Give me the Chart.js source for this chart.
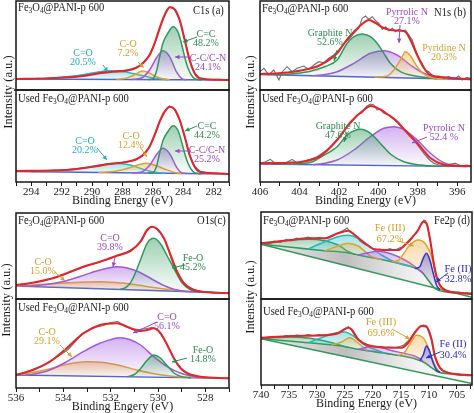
<!DOCTYPE html>
<html><head><meta charset="utf-8">
<script src="https://cdn.jsdelivr.net/npm/chart.js@4.4.1/dist/chart.umd.min.js"></script>
<style>
html,body{margin:0;padding:0;background:#fff;}
body{width:474px;height:413px;position:relative;overflow:hidden;font-family:"Liberation Serif","Times New Roman",serif;color:#1a1a1a;}
canvas{position:absolute;}
.lb{position:absolute;white-space:nowrap;font-size:11.5px;line-height:12px;transform:scaleX(0.92);transform-origin:0 0;}
.lb sub{font-size:8px;vertical-align:-2px;line-height:0;}
.nt{position:absolute;white-space:nowrap;font-size:10px;line-height:9px;text-align:center;transform:translateX(-50%);}
.yt{position:absolute;white-space:nowrap;font-size:12.5px;transform:translate(-50%,-50%) rotate(-90deg);}
svg{position:absolute;left:0;top:0;}
</style></head><body>
<script>
// ---------------- DATA (binding energy eV, intensity a.u.) ----------------
const c1sTicks = [294, 292, 290, 288, 286, 284, 282];
const n1sTicks = [406, 404, 402, 400, 398, 396];
const o1sTicks = [536, 534, 532, 530, 528];
const fe2pTicks = [740, 735, 730, 725, 720, 715, 710, 705];

// C1s – fresh
const c1sTopFit = [[295,11],[292.8,11.7],[290.6,14],[289.5,16.7],[288.63,18.3],[287.75,19.3],[287.09,22.3],[286.66,26.7],[286.22,35],[285.89,46.7],[285.56,61.7],[285.23,75],[284.9,82.7],[284.57,80.7],[284.24,70],[283.91,50],[283.59,30],[283.26,16.7],[282.93,11.7],[281.8,10.2],[281,10]];
const c1sTopRaw = [[295,11.5],[294.3,10.5],[293.6,11.8],[292.8,11],[292,12.5],[291.2,13],[290.5,14.8],[289.8,16.5],[289.1,18.5],[288.5,18.8],[287.9,19.8],[287.3,21],[286.8,25],[286.3,33],[285.9,46],[285.56,61.5],[285.2,76],[284.9,83],[284.6,81],[284.25,70],[283.9,50],[283.6,30.5],[283.26,17],[282.9,11.5],[282.3,10.5],[281.6,10.8],[281,10]];
const c1sTopCC = [[286.3,10.4],[286.0,11.5],[285.78,18],[285.56,33],[285.34,47],[285.01,57],[284.68,63.3],[284.35,58],[284.13,46.7],[283.91,33],[283.69,21.7],[283.37,12.7],[283.04,10.4],[282.8,10.1]];
const c1sTopCCN = [[287.4,10.5],[287.1,11],[286.66,12.7],[286.22,20],[285.78,31.7],[285.34,39.3],[284.9,33.3],[284.46,18.3],[284.13,11.7],[283.8,10.2]];
const c1sTopCO = [[288.4,10.5],[287.7,12],[287.3,14.5],[286.95,17.5],[286.66,19],[286.3,17.5],[285.95,14.5],[285.56,12],[285.2,10.9],[284.9,10.3]];
const c1sTopCdO = [[294,10.9],[293.5,11.1],[292.5,12],[291.5,13.5],[290.5,15.5],[289.6,18],[288.8,19.2],[288.0,18.5],[287.3,16.5],[286.6,14],[286.0,12],[285.4,10.9],[285,10.3]];
const c1sTopBg = [[295,11],[281,10]];
// C1s – used
const c1sBotFit = [[295,11],[291.7,12],[289.95,15.3],[288.85,18],[287.75,20],[287.09,22.7],[286.66,27],[286.22,35.3],[285.89,47],[285.56,60.3],[285.23,70.3],[284.9,75.3],[284.57,72.7],[284.24,62],[283.91,45.3],[283.59,27],[283.26,15.3],[282.93,10.3],[281.8,8.7],[281,8]];
const c1sBotRaw = [[295,10.5],[294.2,11.5],[293.4,10.8],[292.6,11.8],[291.8,12.2],[291,13.5],[290.2,14.5],[289.5,16.5],[288.9,18.5],[288.3,19],[287.7,20.5],[287.2,21.5],[286.7,26],[286.3,33],[285.9,46],[285.56,60],[285.23,70],[284.9,76],[284.6,73],[284.25,62],[283.9,45],[283.6,27.5],[283.25,15.5],[282.9,10.5],[282.3,9],[281.6,8.5],[281,8]];
const c1sBotCC = [[286.3,8.9],[286.0,9.4],[285.78,15],[285.56,28.7],[285.34,41.5],[285.01,50.5],[284.68,56.3],[284.35,51.5],[284.13,41],[283.91,28.5],[283.69,18.5],[283.37,10.5],[283.04,8.6],[282.8,8.3]];
const c1sBotCCN = [[287.4,9.2],[287.1,9.3],[286.66,10.6],[286.22,16.7],[285.78,27],[285.34,33.7],[284.9,28.3],[284.46,15.2],[284.13,9.4],[283.8,8.5]];
const c1sBotCO = [[289.6,9.5],[289.2,9.7],[288.5,10.8],[287.8,13],[287.1,16.5],[286.45,18.7],[285.8,16.5],[285.2,12.8],[284.7,10],[284.3,8.8],[284.0,8.55]];
const c1sBotCdO = [[294,10.3],[293.5,10.4],[292.5,11],[291.5,12.3],[290.5,14.3],[289.5,16.8],[288.4,18.7],[287.5,17],[286.8,13.5],[286.2,10.8],[285.6,9.3],[285.2,8.8]];
const c1sBotBg = [[295,10.5],[281,8]];

// N1s – fresh
const n1sTopFit = [[406,16],[405.2,16.5],[404.63,17.5],[403.78,20],[402.94,25],[402.09,36.7],[401.58,50.7],[401.24,58],[400.82,66],[400.48,70],[400.14,67],[399.72,62],[399.39,60],[398.88,59.3],[398.62,58],[398.37,50],[398.03,35],[397.69,22],[397.36,15],[396.7,12.7],[395.3,10.7]];
const n1sTopRaw = [[406,18.3],[405.8,21.7],[405.55,15],[405.3,20],[405.04,10],[404.87,18.3],[404.63,23.3],[404.37,18.3],[404.12,21.7],[403.78,24],[403.53,20.7],[403.27,25],[403.02,28.3],[402.77,27.3],[402.51,31.7],[402.26,35],[402.0,40],[401.75,46.7],[401.5,50.7],[401.24,56.7],[400.99,61.7],[400.82,71.7],[400.65,74],[400.48,70.7],[400.31,73.3],[400.14,69.3],[399.97,66.7],[399.8,60.7],[399.63,63.3],[399.46,59.3],[399.29,61.7],[399.13,58.3],[398.96,60.7],[398.79,59.3],[398.62,60],[398.45,55],[398.28,50],[398.11,40],[397.95,31.7],[397.78,26.7],[397.61,20],[397.44,18.3],[397.19,13.3],[396.93,14],[396.68,11.7],[396.43,13.3],[396.17,10.7],[395.92,14],[395.75,10],[395.5,12.7],[395.3,11.3]];
const n1sTopGraphite = [[405.2,15.1],[404.2,16.5],[403.4,19],[402.7,23.5],[402.09,30],[401.58,46.7],[401.24,53.3],[400.82,56],[400.4,53.3],[400.06,46.7],[399.72,36.7],[399.39,26.7],[398.88,18.3],[398.2,14.2],[397.5,12.3],[397.0,11.3]];
const n1sTopPyrrolic = [[403.4,14.3],[402.7,15.5],[402.09,18.3],[401.24,26.7],[400.4,36.7],[399.72,39.3],[399.05,35],[398.37,25],[397.69,16.7],[397.02,12.7],[396.4,11.2],[396.0,10.85]];
const n1sTopPyridine = [[400.2,12.8],[399.56,14],[399.22,20],[398.88,30],[398.62,38.3],[398.37,34],[398.03,23.3],[397.69,16],[397.36,12.7],[396.9,11.3],[396.5,11.1]];
const n1sTopBg = [[406,15.5],[395.3,10.5]];
// N1s – used
const n1sBotFit = [[406,18.7],[404.63,19.3],[403.78,20.5],[402.94,26],[402.09,42],[401.4,60],[400.74,72],[400.4,76],[399.9,72.5],[399.56,68],[399.05,60.5],[398.71,53],[398.03,39],[397.36,24],[396.7,17.5],[396.0,16.3],[395.3,16]];
const n1sBotRaw = [[406,18.7],[405.72,20.3],[405.48,22.7],[405.23,18.7],[404.97,18],[404.63,19.7],[404.37,22.7],[404.12,18.7],[403.78,21],[403.44,22.7],[403.1,25.3],[402.85,28.7],[402.6,32],[402.34,37],[402.09,42],[401.83,48.7],[401.58,55.3],[401.33,60.3],[401.08,67],[400.82,69.3],[400.57,76],[400.4,78],[400.23,77],[400.06,72],[399.89,72.7],[399.72,68.7],[399.46,67],[399.22,62.7],[398.96,58],[398.71,52.7],[398.45,47],[398.2,42],[397.95,35.3],[397.69,28.7],[397.44,22.7],[397.19,18.7],[396.93,17],[396.68,16],[396.34,18],[396.09,18.7],[395.84,16.3],[395.5,17],[395.3,16.3]];
const n1sBotGraphite = [[405,17.8],[404,18.3],[403.3,20.5],[402.94,24.7],[402.09,35.3],[401.58,47],[400.9,52.7],[400.4,48.7],[399.9,38.7],[399.39,28],[398.71,20.3],[397.86,17],[397.0,15.8],[396.4,15.6]];
const n1sBotPyrrolic = [[403.3,17.3],[402.8,18.5],[402.09,22],[401.24,32],[400.4,45.3],[399.72,53.7],[399.22,55.3],[398.71,52.7],[398.03,42],[397.36,28.7],[396.68,19.3],[396.0,16.2],[395.5,15.4]];
const n1sBotBg = [[406,18],[395.3,15.3]];

// O1s – fresh
const o1sTopFit = [[536,14],[535.29,16.3],[534.57,20],[533.86,25.7],[533.16,32.3],[532.45,37.3],[531.74,43.3],[531.17,48],[530.74,57.3],[530.46,69],[530.25,72.3],[530.03,70],[529.75,60.7],[529.47,44],[529.19,27.3],[528.9,15.7],[528.48,9],[527.9,6.7],[527,5.7]];
const o1sTopRaw = [[536,14.2],[535.6,15],[535.2,16.8],[534.8,18.5],[534.4,21],[534.0,24.5],[533.7,27],[533.4,29.5],[533.0,33],[532.6,36],[532.3,38.5],[532.0,40.5],[531.7,43.5],[531.4,46],[531.1,49.5],[530.9,53],[530.7,58],[530.5,67],[530.3,72.5],[530.1,71],[529.9,66],[529.7,58.5],[529.5,45],[529.3,31],[529.05,19],[528.8,13],[528.5,9.5],[528.1,7.5],[527.6,6.5],[527,6]];
const o1sTopFeO = [[531.6,9.6],[531.4,11],[531.2,15],[531.03,22],[530.74,39],[530.46,55.7],[530.17,60.7],[529.89,55],[529.61,43],[529.33,30.7],[528.97,15.7],[528.6,9],[528.2,7]];
const o1sTopCdO = [[535.8,12.9],[535.5,13],[534.8,14.2],[534.0,17.5],[533.3,22.5],[532.6,28],[532.0,31.5],[531.74,32.3],[531.3,31],[530.8,27],[530.3,20.5],[529.8,14],[529.3,9.5],[528.8,7.6],[528.2,7]];
const o1sTopCO = [[536,13],[535,14.5],[534,16],[533,17],[532.45,17.3],[531.8,16.5],[531,14.5],[530.2,11.5],[529.4,9],[528.6,7.5],[527.8,6.7],[527.4,6.3]];
const o1sTopBg = [[536,13],[527,6]];
// O1s – used
const o1sBotFit = [[536,13],[535.29,18],[534.57,26.3],[533.86,39.7],[533.16,54.7],[532.45,63],[531.74,64.7],[531.31,61.3],[530.74,57],[530.46,58],[530.18,59.7],[529.89,54.7],[529.61,43],[529.33,29.7],[529.04,19.7],[528.76,14.7],[528.19,11.3],[527,9.7]];
const o1sBotRaw = [[536,13.3],[535.6,15.5],[535.3,18.5],[534.9,22],[534.5,27.5],[534.1,33.5],[533.8,38.5],[533.5,46],[533.2,54],[532.9,58],[532.6,61],[532.3,62.5],[532.0,65.5],[531.7,66.5],[531.4,62],[531.1,59],[530.8,58.5],[530.5,59.5],[530.25,60.5],[530.0,57.5],[529.75,49],[529.5,38],[529.25,26],[529.0,18.5],[528.7,13.5],[528.3,11.5],[527.8,10.5],[527.3,9.8],[527,9.7]];
const o1sBotFeO = [[531.3,11.3],[531.0,13.5],[530.75,19],[530.45,28],[530.17,33],[529.9,30],[529.6,22],[529.3,14.5],[529.0,11.4],[528.6,10.3]];
const o1sBotCdO = [[535.6,12.9],[535.29,13.7],[534.57,18],[533.86,26.3],[533.16,36.3],[532.45,44.7],[531.6,50.3],[531.2,48.5],[530.74,43],[530.18,31.3],[529.61,21.3],[529.04,14.7],[528.48,11.3],[528.0,10.1]];
const o1sBotCO = [[536,13.5],[535.3,15.5],[534.6,19],[533.9,23.5],[533.0,26.3],[532.3,25.5],[531.6,22.5],[530.9,18],[530.2,14.5],[529.5,12],[528.8,10.7],[528.0,10.1]];
const o1sBotBg = [[536,13],[527,9.7]];

// Fe2p – fresh
const fe2pTopFit = [[740,55.7],[737.55,57.3],[734.58,59],[731.59,60.7],[728.61,60.7],[726.23,65.7],[724.44,68.3],[723.25,64],[721.46,55.7],[719.67,49.7],[717.88,49],[715.49,49],[714.30,54],[713.11,60.7],[711.92,69],[711.02,77.3],[710.43,75.7],[709.83,60.7],[709.23,39],[708.64,22.3],[708.04,14],[707.15,9],[704.76,6.3],[702.3,5]];
const fe2pTopRaw = [[740,56],[738.8,54],[737.6,58],[736.5,56.5],[735.5,59.5],[734.6,58],[733.6,61],[732.6,59.5],[731.6,62],[730.6,60],[729.6,61.5],[728.6,60],[727.6,63],[726.8,64.5],[726.2,66],[725.3,68.5],[724.6,71],[724.2,68],[723.6,66],[723,63],[722.3,58],[721.5,55],[720.6,52.5],[719.7,49],[718.8,50],[717.9,48],[717,50.5],[716.1,48.5],[715.3,51],[714.6,52],[714,56],[713.4,58],[712.8,63],[712.2,66],[711.7,72],[711.2,76],[710.9,79],[710.6,78],[710.3,74],[709.9,62],[709.5,50],[709.1,34],[708.7,23],[708.2,15],[707.6,11],[707,9],[706.2,7.5],[705.4,6.5],[704.6,7],[703.8,5.5],[703,6],[702.3,5]];
const fe2pTopSat = [[740,54.7],[736.96,57.3],[734.58,59],[731.59,59.7],[728.61,58.3],[726.23,54],[724.44,47.5],[723.25,44.8]];
const fe2pTopCyan = [[731.59,50],[728.61,57.3],[726.23,62.3],[724.44,63.7],[722.65,60.7],[720.86,54],[718.48,44],[715.49,35.6],[713.11,32.3]];
const fe2pTopFe3b = [[728.61,48.3],[726.23,53],[724.44,55.7],[722.65,53],[720.27,42.3],[718.48,39.3]];
const fe2pTopSat2 = [[722.65,44],[720.86,46.3],[719.07,47.7],[716.69,45],[714.30,39],[712.51,32.5],[711.02,25.2]];
const fe2pTopFe3 = [[716.69,37.3],[715.49,38.5],[714.9,42.3],[713.4,54],[711.92,59],[710.72,55.7],[709.53,42.3],[708.64,22.3],[707.74,8.4]];
const fe2pTopFe2 = [[712.51,30.6],[711.62,32.3],[711.02,40.7],[710.43,45.7],[709.83,39],[709.23,25.7],[708.64,14],[708.04,9.0]];
const fe2pTopShirley = [[740,54.7],[734.58,51.7],[728.61,48.3],[724.44,46.3],[722.65,44],[716.69,37.3],[713.11,32.3],[711.32,27.3],[710.13,19],[708.94,10.7],[707.15,7.3],[702.3,5.7]];
const fe2pTopLinear = [[740,54.7],[702.3,1.7]];
// Fe2p – used
const fe2pBotFit = [[740,47.3],[734.58,49],[728.61,49.7],[726.23,51.7],[724.44,57.3],[723.85,55.7],[722.65,45.7],[720.86,39.7],[716.69,37.3],[714.90,37.3],[713.70,42.3],[712.51,52.3],[711.32,59],[710.43,58.3],[709.53,45.7],[708.94,29],[708.04,17.3],[706.55,12.3],[702.3,9.7]];
const fe2pBotRaw = [[740,47.5],[738.8,46.5],[737.6,48.5],[736.5,47.5],[735.5,49.5],[734.6,48.5],[733.6,50],[732.6,49],[731.6,50.5],[730.6,49.5],[729.6,50.5],[728.6,50],[727.6,51],[726.8,52],[726.2,52.5],[725.5,54.5],[724.8,56],[724.4,58.5],[724,56],[723.4,51],[722.8,46.5],[722.1,43],[721.3,40.5],[720.5,39.5],[719.6,38],[718.7,38.5],[717.8,37.5],[716.9,38],[716,37.5],[715.2,38.5],[714.5,40],[713.9,43],[713.3,47],[712.7,52],[712.1,56],[711.5,59],[711,60],[710.5,59.5],[710.1,54],[709.6,46],[709.2,35],[708.8,26],[708.3,19],[707.7,14.5],[707,12.5],[706.2,11.5],[705.4,10.5],[704.6,11],[703.8,10],[703,10.5],[702.3,9.5]];
const fe2pBotSat = [[740,46.3],[737.55,47.5],[734.58,48],[731.59,47],[728.61,44],[726.23,40.5],[724.44,37.7]];
const fe2pBotCyan = [[731.59,42.3],[728.61,48.5],[726.23,52.3],[725.03,53],[723.25,48],[721.46,40],[719.67,35.5],[717.88,31.7]];
const fe2pBotFe3b = [[727.4,40],[725.63,43],[724.14,47.3],[722.65,42],[721.0,34.3]];
const fe2pBotSat2 = [[722.65,35.7],[720.3,38.5],[718.5,37.5],[716.69,34.5],[714.3,31.5],[712.51,28.8],[711.3,25],[711.0,22.9]];
const fe2pBotFe3 = [[715.49,29.4],[714.30,33],[713.4,41],[712.2,49.7],[711.02,47],[710.13,38],[709.53,28],[708.64,17],[708.04,12.7]];
const fe2pBotFe2 = [[711.62,24.3],[711.02,30],[710.43,39],[709.83,33],[709.23,22],[708.64,15],[708.04,12.7]];
const fe2pBotShirley = [[740,46.3],[731.59,42.3],[725.63,39],[722.65,35.7],[716.69,30.7],[712.51,26.3],[710.72,22.3],[709.53,17.3],[708.34,13],[706.55,11.3],[702.3,9.7]];
const fe2pBotLinear = [[740,46.3],[702.3,1.5]];

// ---------------- STYLE ----------------
const FONT = '"Liberation Serif","Times New Roman",serif';
const RED='#e2262b', RAW='#6e6e6e', BASE='#4d62d6';
const C = {
  green:['#2e9a5a','52,155,95'], purple:['#a35ad8','165,95,222'], gold:['#e0a232','232,170,60'],
  cyan:['#27b8c6','45,192,204'], blue:['#3034cf','60,62,215'], teal:['#26b7b9','40,190,195']
};
function pts(a){ return a.slice().sort((p,q)=>q[0]-p[0]).map(p=>({x:p[0],y:p[1]})); }
function vgrad(rgb,a0,a1){
  return (c)=>{
    const ch=c.chart, area=ch.chartArea;
    if(!area || !ch.scales.y) return `rgba(${rgb},${(a0+a1)/2})`;
    const ds=ch.data.datasets[c.datasetIndex]; const ys=ds.data.map(p=>p.y);
    const sy=ch.scales.y; const t=sy.getPixelForValue(Math.max(...ys)); let b=sy.getPixelForValue(Math.min(...ys)); if(b<t+2) b=t+2;
    const g=ch.ctx.createLinearGradient(0,t,0,b); g.addColorStop(0,`rgba(${rgb},${a0})`); g.addColorStop(1,`rgba(${rgb},${a1})`); return g;
  };
}
function hgrad(){
  return (c)=>{
    const ch=c.chart, a=ch.chartArea; if(!a) return 'rgba(90,90,90,0.2)';
    const g=ch.ctx.createLinearGradient(a.left,0,a.right,0);
    g.addColorStop(0,'rgba(110,110,110,0.12)'); g.addColorStop(0.4,'rgba(100,100,100,0.42)'); g.addColorStop(0.75,'rgba(150,150,150,0.12)'); g.addColorStop(1,'rgba(170,170,170,0.04)');
    return g;
  };
}
function ln(data,color,w,extra){ return Object.assign({data:pts(data),borderColor:color,borderWidth:w,pointRadius:0,pointHoverRadius:0,cubicInterpolationMode:'monotone',fill:false},extra||{}); }
function straight(data,color,w,extra){ return ln(data,color,w,Object.assign({cubicInterpolationMode:'default',tension:0},extra||{})); }
function stdSets(fit,raw,comps,bg){
  const ds=[ln(fit,RED,2.1), straight(raw,RAW,1.1)];
  const bgIdx=2+comps.length;
  comps.forEach(c=>ds.push(ln(c[0],c[1][0],1.5,{fill:{target:bgIdx},backgroundColor:vgrad(c[1][1],0.48,0.02)})));
  ds.push(straight(bg,BASE,1.3));
  return ds;
}
function feSets(fit,raw,comps,S,L){
  const ds=[ln(fit,RED,2.1), straight(raw,RAW,1.1)];
  const sIdx=2+comps.length;
  comps.forEach(c=>ds.push(ln(c[0],c[1][0],1.5,{fill:{target:sIdx},backgroundColor:vgrad(c[1][1],0.42,0.04)})));
  ds.push(ln(S,C.green[0],1.6,{fill:{target:sIdx+1},backgroundColor:hgrad()}));
  ds.push(straight(L,C.green[0],1.6));
  return ds;
}

const frame={id:'frame',afterDraw(ch){const{ctx,chartArea:a}=ch;ctx.save();ctx.strokeStyle='#161616';ctx.lineWidth=1.5;ctx.strokeRect(a.left,a.top,a.right-a.left,a.bottom-a.top);ctx.restore();}};

function xScale(s){
  const o={type:'linear',reverse:true,min:s.min,max:s.max,display:!!s.axis,bounds:'data'};
  if(!s.axis) return o;
  return Object.assign(o,{
    afterBuildTicks(sc){const out=[];const st=s.step;for(let k=Math.ceil(s.min/st-1e-9);k*st<=s.max+1e-9;k++){out.push({value:Math.round(k*st*10)/10});}sc.ticks=out.reverse();},
    afterFit(sc){sc.height=27;sc.paddingLeft=0;sc.paddingRight=0;},
    ticks:{autoSkip:false,maxRotation:0,minRotation:0,padding:0,color:'#1a1a1a',font:{family:FONT,size:11},callback:(v)=>s.labels.includes(v)?String(v):''},
    grid:{display:true,drawOnChartArea:false,drawTicks:true,tickLength:4,color:'#1a1a1a',lineWidth:1},
    border:{display:false},
    title:{display:true,text:s.title,color:'#1a1a1a',font:{family:FONT,size:12},padding:{top:0,bottom:1}}
  });
}
function makeChart(s){
  const cv=document.createElement('canvas');
  const px=s.axis?14:2;
  const W=s.w+2*px, H=s.h+2+(s.axis?28:2);
  cv.width=W; cv.height=H;
  cv.style.left=(s.left-px)+'px'; cv.style.top=(s.top-2)+'px'; cv.style.width=W+'px'; cv.style.height=H+'px';
  document.body.appendChild(cv);
  new Chart(cv,{type:'line',data:{datasets:s.datasets},
    options:{responsive:false,animation:false,devicePixelRatio:1,events:[],
      layout:{autoPadding:false,padding:{left:px,right:px,top:2,bottom:s.axis?1:2}},
      plugins:{legend:{display:false},tooltip:{enabled:false}},
      scales:{x:xScale(s),y:{display:false,min:0,max:s.h}}},
    plugins:[frame]});
}

const specs=[
 {left:16,top:1,w:213,h:89,min:281,max:295,datasets:stdSets(c1sTopFit,c1sTopRaw,[[c1sTopCC,C.green],[c1sTopCCN,C.purple],[c1sTopCO,C.gold],[c1sTopCdO,C.cyan]],c1sTopBg)},
 {left:16,top:90,w:213,h:92,min:281,max:295,axis:true,step:1,labels:c1sTicks,title:'Binding Energy (eV)',datasets:stdSets(c1sBotFit,c1sBotRaw,[[c1sBotCC,C.green],[c1sBotCCN,C.purple],[c1sBotCO,C.gold],[c1sBotCdO,C.cyan]],c1sBotBg)},
 {left:260,top:1,w:211,h:89,min:395.3,max:406,datasets:stdSets(n1sTopFit,n1sTopRaw,[[n1sTopPyridine,C.gold],[n1sTopGraphite,C.green],[n1sTopPyrrolic,C.purple]],n1sTopBg)},
 {left:260,top:90,w:211,h:92,min:395.3,max:406,axis:true,step:1,labels:n1sTicks,title:'Binding Energy (eV)',datasets:stdSets(n1sBotFit,n1sBotRaw,[[n1sBotGraphite,C.green],[n1sBotPyrrolic,C.purple]],n1sBotBg)},
 {left:16,top:213,w:213,h:86,min:527,max:536,datasets:stdSets(o1sTopFit,o1sTopRaw,[[o1sTopFeO,C.green],[o1sTopCdO,C.purple],[o1sTopCO,C.gold]],o1sTopBg)},
 {left:16,top:299,w:213,h:89,min:527,max:536,axis:true,step:1,labels:o1sTicks,title:'Binding Engery (eV)',datasets:stdSets(o1sBotFit,o1sBotRaw,[[o1sBotFeO,C.green],[o1sBotCdO,C.purple],[o1sBotCO,C.gold]],o1sBotBg)},
 {left:261,top:212,w:211,h:87,min:702.3,max:740,datasets:feSets(fe2pTopFit,fe2pTopRaw,[[fe2pTopFe2,C.blue],[fe2pTopFe3,C.gold],[fe2pTopSat2,C.purple],[fe2pTopFe3b,C.gold],[fe2pTopCyan,C.teal],[fe2pTopSat,C.green]],fe2pTopShirley,fe2pTopLinear)},
 {left:261,top:299,w:211,h:86,min:702.3,max:740,axis:true,step:2.5,labels:fe2pTicks,title:'Binding Energy (eV)',datasets:feSets(fe2pBotFit,fe2pBotRaw,[[fe2pBotFe2,C.blue],[fe2pBotFe3,C.gold],[fe2pBotSat2,C.purple],[fe2pBotFe3b,C.gold],[fe2pBotCyan,C.teal],[fe2pBotSat,C.green]],fe2pBotShirley,fe2pBotLinear)}
];
specs.forEach(makeChart);

// ---------------- TEXT & ANNOTATIONS ----------------
const FRESH='Fe<sub>3</sub>O<sub>4</sub>@PANI-p 600', USED='Used Fe<sub>3</sub>O<sub>4</sub>@PANI-p 600';
const plain=[[18,1,FRESH],[18,92,USED],[262,2,FRESH],[262,92,USED],[18,214,FRESH],[18,301,USED],[263,214,FRESH],[263,305,USED],
 [193,4,'C1s (a)'],[434,6,'N1s (b)'],[197,214,'O1s(c)'],[434,214,'Fe2p (d)']];
plain.forEach(p=>{const d=document.createElement('div');d.className='lb';d.style.left=p[0]+'px';d.style.top=p[1]+'px';d.innerHTML=p[2];document.body.appendChild(d);});
const TXT={green:'#2c8c50',purple:'#9a47c9',gold:'#d6a12d',cyan:'#1fb0c0',blue:'#2d2dc6'};
const notes=[
 [83,47.5,'cyan','C=O<br>20.5%'],[128,38.5,'gold','C-O<br>7.2%'],[206,28.5,'green','C=C<br>48.2%'],[208,52.5,'purple','C-C/C-N<br>24.1%'],
 [85,135.5,'cyan','C=O<br>20.2%'],[131,130.5,'gold','C-O<br>12.4%'],[207,120.5,'green','C=C<br>44.2%'],[207,144.5,'purple','C-C/C-N<br>25.2%'],
 [407,7,'purple','Pyrrolic N<br>27.1%'],[330,28,'green','Graphite N<br>52.6%'],[444,43,'gold','Pyridine N<br>20.3%'],
 [338,121,'green','Graphite N<br>47.6%'],[444,122.5,'purple','Pyrrolic N<br>52.4 %'],
 [110,233,'purple','C=O<br>39.8%'],[43,257,'gold','C-O<br>15.0%'],[193,253,'green','Fe-O<br>45.2%'],
 [167,312,'purple','C=O<br>56.1%'],[47,327,'gold','C-O<br>29.1%'],[203,345,'green','Fe-O<br>14.8%'],
 [390,222,'gold','Fe (III)<br>67.2%',11],[458,264,'blue','Fe (II)<br>32.8%',10],
 [381,316,'gold','Fe (III)<br>69.6%',11],[453,338,'blue','Fe (II)<br>30.4%',11]
];
notes.forEach(n=>{const d=document.createElement('div');d.className='nt';d.style.left=n[0]+'px';d.style.top=n[1]+'px';d.style.color=TXT[n[2]];if(n[4]){d.style.lineHeight=n[4]+'px';d.style.fontSize='10.5px';}d.innerHTML=n[3];document.body.appendChild(d);});
const yts=[[8,92],[250,92],[6,300],[250,297]];
yts.forEach(p=>{const d=document.createElement('div');d.className='yt';d.style.left=p[0]+'px';d.style.top=p[1]+'px';d.textContent='Intensity (a.u.)';document.body.appendChild(d);});
const arrows=[
 [103,65,108,72,'cyan'],[138,62,144,68,'gold'],[197,37,183,42,'green'],[190,57,175,57,'purple'],
 [97,148,107,160,'cyan'],[140,147,147,157,'gold'],[197,126,185,131,'green'],[191,151,175,151,'purple'],
 [400,25,399,43,'purple'],[337,50,334,61,'green'],[347,132,344,142,'green'],[427,137,412,143,'purple'],
 [115,257,113,267,'purple'],[55,272,65,281,'gold'],[185,265,172,268,'green'],
 [157,322,133,333,'purple'],[60,345,72,357,'gold'],[187,358,172,362,'green'],
 [398,241,414,246,'gold'],[448,273,436,282,'blue'],[392,329,410,339,'gold'],[440,352,426,358,'blue']
];
const NS='http://www.w3.org/2000/svg';
const svg=document.createElementNS(NS,'svg');svg.setAttribute('width','474');svg.setAttribute('height','413');
arrows.forEach(a=>{
  const [x1,y1,x2,y2,c]=a; const col=TXT[c];
  const l=document.createElementNS(NS,'line');l.setAttribute('x1',x1);l.setAttribute('y1',y1);l.setAttribute('x2',x2);l.setAttribute('y2',y2);l.setAttribute('stroke',col);l.setAttribute('stroke-width','1');svg.appendChild(l);
  const ang=Math.atan2(y2-y1,x2-x1), s=4.5, w=2.2;
  const bx=x2-s*Math.cos(ang), by=y2-s*Math.sin(ang);
  const p=document.createElementNS(NS,'polygon');
  p.setAttribute('points',`${x2},${y2} ${bx+w*Math.sin(ang)},${by-w*Math.cos(ang)} ${bx-w*Math.sin(ang)},${by+w*Math.cos(ang)}`);
  p.setAttribute('fill',col);svg.appendChild(p);
});
document.body.appendChild(svg);
</script>
</body></html>
